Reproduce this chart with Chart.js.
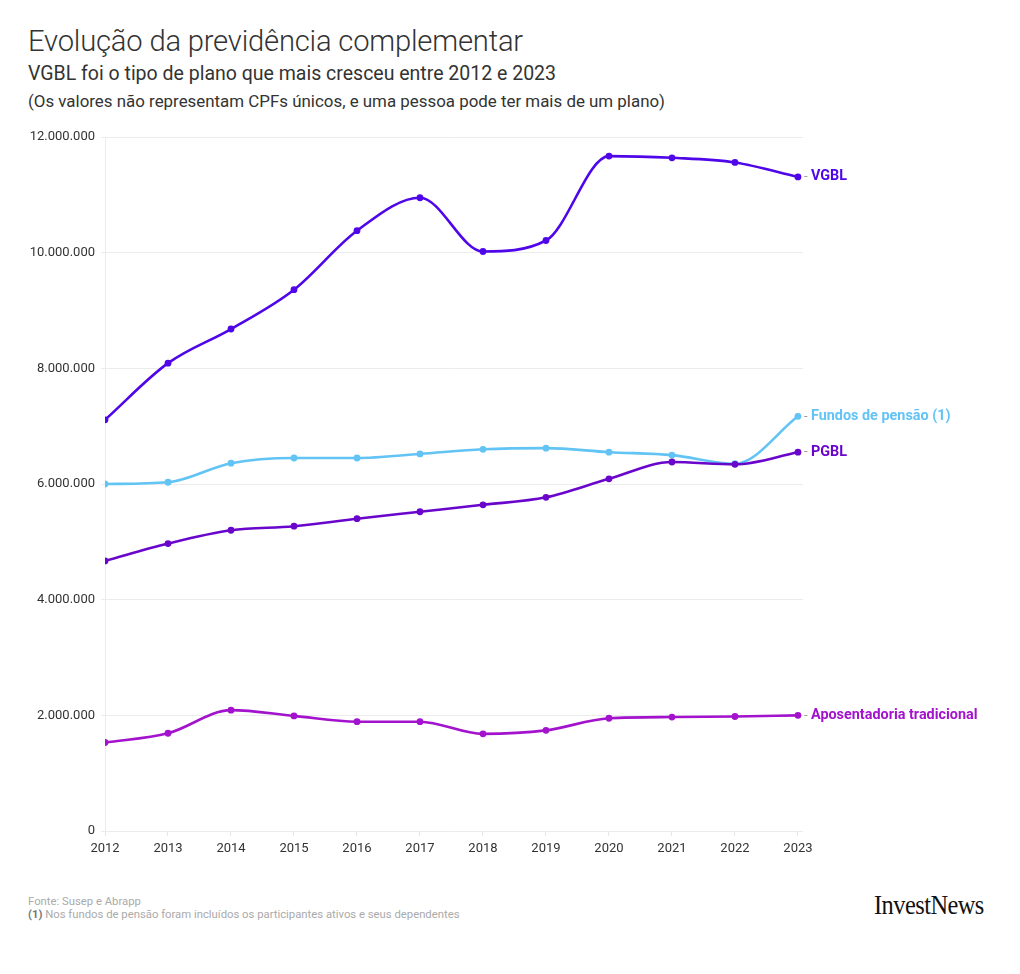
<!DOCTYPE html>
<html>
<head>
<meta charset="utf-8">
<script src="https://cdn.jsdelivr.net/npm/chart.js@4/dist/chart.umd.min.js"></script>
<style>
  html, body { margin: 0; padding: 0; background: #fff; }
  body { width: 1020px; height: 974px; position: relative; overflow: hidden; font-family: "Roboto", "Open Sans", sans-serif; }
  #title { position: absolute; left: 28px; top: 24px; font-size: 29.2px; font-weight: 300; color: #333; white-space: nowrap; letter-spacing: -0.2px; }
  #subtitle { position: absolute; left: 28px; top: 62px; font-size: 19.5px; font-weight: 400; color: #333; white-space: nowrap; }
  #note { position: absolute; left: 28px; top: 91px; font-size: 16.9px; font-weight: 400; color: #333; white-space: nowrap; }
  #wrap { position: absolute; left: 0; top: 121px; width: 1020px; height: 750px; }
  #foot1 { position: absolute; left: 28px; top: 895px; font-size: 11.3px; color: #aaa; white-space: nowrap; }
  #foot2 { position: absolute; left: 28px; top: 908px; font-size: 11.3px; color: #aaa; white-space: nowrap; }
  #foot2 b { color: #777; }
  #logo { position: absolute; left: 874px; top: 891px; font-family: "Liberation Serif", "DejaVu Serif", serif; font-size: 28px; color: #111; white-space: nowrap; transform: scaleX(0.87); transform-origin: left top; letter-spacing: -0.6px; line-height: 1; }
</style>
</head>
<body>
<div id="title">Evolução da previdência complementar</div>
<div id="subtitle">VGBL foi o tipo de plano que mais cresceu entre 2012 e 2023</div>
<div id="note">(Os valores não representam CPFs únicos, e uma pessoa pode ter mais de um plano)</div>
<div id="wrap"><canvas id="c" width="1020" height="750"></canvas></div>
<div id="foot1">Fonte: Susep e Abrapp</div>
<div id="foot2"><b>(1)</b> Nos fundos de pensão foram incluídos os participantes ativos e seus dependentes</div>
<div id="logo">InvestNews</div>
<script>
const years = [2012, 2013, 2014, 2015, 2016, 2017, 2018, 2019, 2020, 2021, 2022, 2023];
const vgbl = [7110000, 8090000, 8680000, 9360000, 10380000, 10950000, 10020000, 10210000, 11670000, 11640000, 11560000, 11310000];
const fundos = [6000000, 6030000, 6360000, 6450000, 6450000, 6520000, 6600000, 6620000, 6550000, 6500000, 6350000, 7170000];
const pgbl = [4670000, 4970000, 5200000, 5270000, 5400000, 5520000, 5640000, 5770000, 6090000, 6380000, 6340000, 6550000];
const aposentadoria = [1530000, 1690000, 2090000, 1990000, 1890000, 1890000, 1680000, 1740000, 1950000, 1970000, 1980000, 2000000];
const yTicks = [0, 2000000, 4000000, 6000000, 8000000, 10000000, 12000000];

const seriesNames = ["VGBL", "Fundos de pensão (1)", "PGBL", "Aposentadoria tradicional"];
const seriesColors = ["#4f06e8", "#62c3f5", "#6a06cc", "#a312cc"];
const seriesData = [vgbl, fundos, pgbl, aposentadoria];

function fmt(v) { return String(Math.round(v)).replace(/\B(?=(\d{3})+(?!\d))/g, "."); }

const datasets = seriesData.map((arr, i) => ({
  label: seriesNames[i],
  data: arr.map((v, j) => ({ x: years[j], y: v })),
  borderColor: seriesColors[i],
  backgroundColor: seriesColors[i],
  borderWidth: 2.6,
  pointRadius: 3.4,
  pointBorderWidth: 0,
  cubicInterpolationMode: "monotone",
  fill: false,
  order: [0, 2, 1, 3][i]
}));

const endLabels = {
  id: "endLabels",
  afterDatasetsDraw(chart) {
    const ctx = chart.ctx;
    ctx.save();
    chart.data.datasets.forEach((ds, i) => {
      const meta = chart.getDatasetMeta(i);
      const pt = meta.data[meta.data.length - 1];
      const x = pt.x + 6, y = pt.y;
      ctx.textBaseline = "middle";
      ctx.font = "400 13px Roboto, sans-serif";
      ctx.fillStyle = "#999";
      ctx.fillText("-", x, y);
      ctx.font = "700 14.4px Roboto, sans-serif";
      ctx.fillStyle = ds.borderColor;
      ctx.fillText(ds.label, x + 7, y);
    });
    ctx.restore();
  }
};

new Chart(document.getElementById("c"), {
  type: "line",
  data: { datasets },
  plugins: [endLabels],
  options: {
    responsive: false,
    animation: false,
    layout: { padding: { top: 16, right: 217, left: 0, bottom: 0 } },
    plugins: { legend: { display: false }, tooltip: { enabled: false } },
    scales: {
      x: {
        type: "linear",
        min: 2012,
        max: 2023.08,
        afterBuildTicks(axis) { axis.ticks = years.map(v => ({ value: v })); },
        afterFit(axis) { axis.height = 40; },
        ticks: { color: "#333", font: { family: "Roboto", size: 13 }, padding: 5, callback: v => String(v), maxRotation: 0, autoSkip: false },
        grid: { display: true, drawOnChartArea: false, drawTicks: true, tickLength: 5, color: "#e6e6e6" },
        border: { display: false }
      },
      y: {
        min: 0,
        max: 12000000,
        afterBuildTicks(axis) { axis.ticks = yTicks.map(v => ({ value: v })); },
        afterFit(axis) { axis.width = 105; },
        ticks: { color: "#333", font: { family: "Roboto", size: 13 }, padding: 6, callback: v => fmt(v) },
        grid: { color: "#ececec", tickLength: 4, lineWidth: 1 },
        border: { display: true, color: "#ececec" }
      }
    }
  }
});
</script>
</body>
</html>
